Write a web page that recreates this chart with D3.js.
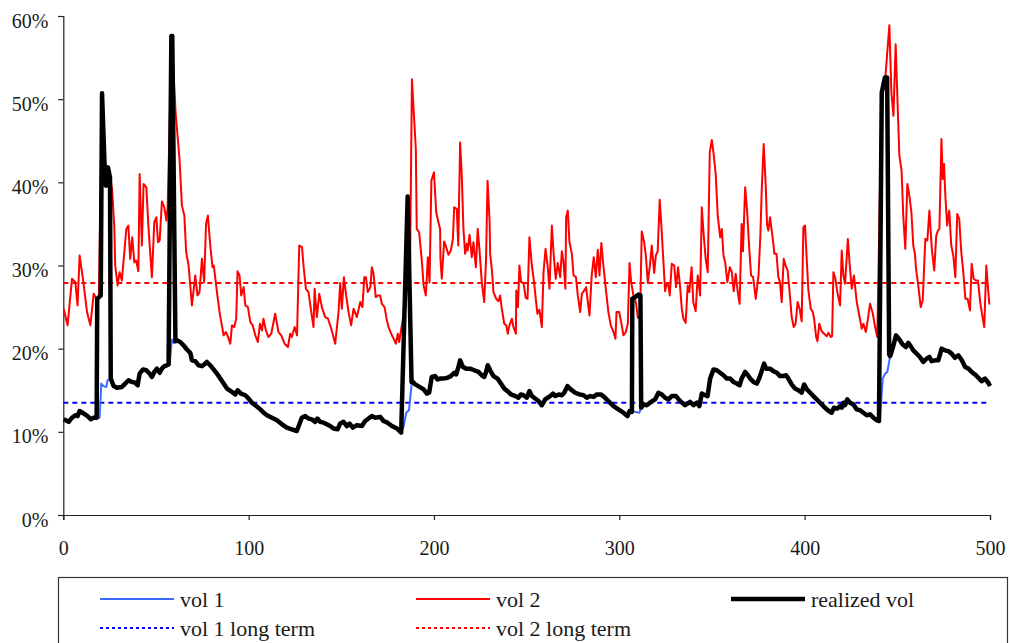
<!DOCTYPE html>
<html>
<head>
<meta charset="utf-8">
<script src="https://cdn.jsdelivr.net/npm/d3@7"></script>
<style>
  html, body { margin: 0; padding: 0; background: #fff; }
  svg { display: block; }
</style>
</head>
<body>
<div id="chart"></div>
<script>
// ---------------- DATA ----------------
const xTicks = [0, 100, 200, 300, 400, 500];
const yTicks = [0, 10, 20, 30, 40, 50, 60];
const seriesNames = ["vol 1", "vol 2", "realized vol", "vol 1 long term", "vol 2 long term"];
const vol1LongTerm = 13.5;
const vol2LongTerm = 27.9;

// vol 1: [time, vol %]
const vol1 = [[0.2,11.5],[2.9,11.2],[4.7,11.7],[6.5,12.0],[7.7,11.9],[8.8,12.5],[11.0,12.2],[13.1,11.9],[14.9,11.5],[16.3,11.7],[17.8,11.7],[19.6,11.7],[20.5,15.8],[21.7,15.5],[23.2,15.4],[23.9,16.2],[25.4,16.4],[27.2,15.5],[28.9,15.3],[31.6,15.4],[33.4,15.8],[35.2,16.2],[37.0,16.0],[38.8,15.9],[40.1,15.6],[41.2,17.0],[43.0,17.5],[44.8,17.4],[46.6,17.0],[47.8,16.6],[49.1,17.2],[50.5,17.6],[52.0,17.1],[53.2,17.6],[54.5,17.9],[55.9,18.0],[57.4,18.1],[58.6,21.1],[59.5,20.7],[60.4,20.8],[61.3,21.0],[63.1,20.8],[64.9,20.4],[66.7,19.9],[68.5,19.5],[69.4,18.6],[71.2,18.5],[73.0,18.0],[74.8,17.9],[76.0,18.1],[77.5,18.4],[79.3,18.0],[81.1,17.5],[82.9,17.0],[84.7,16.4],[86.5,15.8],[88.3,15.2],[91.0,14.8],[92.8,14.5],[94.1,15.0],[95.9,14.6],[98.2,14.4],[100.0,14.0],[101.8,13.5],[104.1,13.1],[106.3,12.7],[108.1,12.3],[109.9,12.0],[112.6,11.7],[115.3,11.4],[118.0,10.9],[120.6,10.5],[123.3,10.3],[126.0,10.1],[128.7,11.7],[130.5,11.9],[132.3,11.6],[134.1,11.5],[135.9,11.2],[137.1,11.6],[138.6,11.2],[140.4,11.1],[142.2,10.9],[144.0,10.7],[145.8,10.4],[148.0,10.3],[149.4,11.0],[151.2,11.2],[153.0,10.7],[154.4,11.0],[156.2,10.5],[158.4,10.8],[161.1,10.7],[162.9,11.3],[164.7,11.6],[166.5,11.9],[168.3,11.7],[171.0,11.8],[172.8,11.3],[174.9,11.1],[177.3,10.7],[180.0,10.4],[182.3,9.9],[183.5,10.5],[185.0,12.3],[186.5,12.6],[187.2,14.1],[188.1,16.1],[189.9,15.7],[192.2,15.4],[194.4,15.1],[196.2,14.6],[197.4,14.7],[198.8,16.6],[200.6,16.7],[201.9,16.3],[203.3,16.4],[205.1,16.4],[207.3,16.5],[209.1,16.7],[210.9,17.1],[212.0,16.9],[213.2,17.8],[214.1,18.6],[215.6,17.8],[217.4,17.6],[219.5,17.6],[221.7,17.4],[224.0,17.2],[225.8,16.8],[227.1,16.6],[228.1,17.2],[229.0,18.0],[230.3,17.4],[232.1,16.7],[234.3,16.4],[236.1,15.8],[237.9,15.2],[239.7,14.9],[241.5,14.5],[243.9,14.3],[245.6,14.1],[246.9,14.5],[248.3,14.4],[250.1,14.1],[251.5,14.9],[252.8,14.3],[254.6,14.0],[256.4,13.7],[258.2,13.2],[260.0,13.9],[261.3,14.1],[262.7,14.3],[264.2,14.6],[265.5,14.3],[267.3,14.5],[269.0,14.4],[270.3,14.7],[272.0,15.5],[273.8,15.1],[276.2,14.7],[278.5,14.5],[280.7,14.4],[282.5,14.1],[284.3,14.3],[286.1,14.2],[287.9,14.5],[290.0,14.5],[291.8,14.2],[294.1,13.7],[296.9,13.1],[299.5,12.7],[302.2,12.3],[304.4,11.9],[305.5,12.5],[306.8,12.4],[308.5,12.4],[310.8,12.3],[311.7,12.9],[313.0,13.3],[314.8,13.2],[316.5,13.5],[319.3,13.9],[321.1,14.7],[322.9,14.5],[324.7,14.1],[326.5,13.9],[328.3,14.3],[330.6,14.3],[332.8,13.7],[335.5,13.2],[338.2,13.6],[340.0,13.2],[341.8,13.5],[343.2,13.1],[344.5,14.6],[346.3,14.4],[347.6,14.3],[349.0,16.4],[350.8,17.5],[352.6,17.4],[354.4,17.1],[356.2,16.8],[358.0,16.4],[359.8,16.4],[361.6,16.0],[363.4,15.8],[364.9,15.6],[366.0,16.4],[367.9,17.2],[369.1,16.9],[370.6,16.4],[372.4,16.0],[374.2,15.8],[375.6,16.5],[376.8,17.3],[378.1,18.2],[379.2,17.6],[381.3,17.6],[383.1,17.3],[385.0,17.1],[386.7,16.7],[388.5,16.7],[390.0,16.8],[391.2,16.4],[393.0,15.7],[394.8,15.2],[396.6,15.0],[398.4,14.7],[399.7,15.7],[401.2,15.1],[403.0,14.7],[404.7,14.3],[406.5,13.9],[408.3,13.5],[410.1,13.1],[411.9,12.7],[413.7,12.4],[414.6,12.3],[415.8,12.9],[417.6,12.8],[419.1,13.1],[420.0,12.9],[420.9,13.5],[421.8,13.2],[423.0,13.9],[424.5,13.5],[426.3,13.3],[428.1,12.7],[429.9,12.6],[431.7,12.3],[433.5,12.0],[435.3,12.1],[437.1,11.7],[438.9,11.4],[440.1,11.3],[440.6,11.3],[442.1,16.4],[443.4,17.0],[444.6,17.2],[446.1,19.1],[446.5,19.3],[447.9,20.4],[449.3,21.6],[451.1,21.1],[452.9,20.5],[454.6,20.2],[455.9,20.7],[457.2,20.3],[458.6,19.8],[460.4,19.4],[462.2,19.0],[464.0,18.4],[465.8,18.8],[467.3,19.0],[468.5,18.5],[470.3,18.6],[472.1,18.6],[473.9,20.0],[475.7,19.8],[477.5,19.7],[479.3,19.4],[481.1,18.9],[482.9,19.2],[484.8,18.6],[486.6,17.8],[488.4,17.6],[490.1,17.2],[491.9,16.9],[493.7,16.5],[495.5,16.1],[497.3,16.4],[499.1,15.9],[500.0,15.5]];

// vol 2: [time, vol %]
const vol2 = [[0.2,24.8],[2.3,22.8],[4.7,28.4],[6.5,28.0],[7.7,25.2],[8.8,31.2],[10.6,28.4],[12.8,24.4],[14.6,22.8],[16.4,26.6],[17.8,26.0],[19.2,26.2],[20.9,50.7],[22.3,41.8],[23.0,39.6],[24.1,41.8],[25.2,40.6],[26.3,39.2],[27.5,34.8],[28.0,30.0],[29.3,27.6],[30.4,29.2],[31.6,28.2],[34.0,34.4],[35.1,34.8],[36.1,30.8],[37.2,33.4],[38.3,30.4],[39.3,30.6],[40.5,29.3],[41.2,41.0],[42.4,32.4],[43.3,39.8],[44.8,39.4],[46.0,34.4],[47.8,28.6],[49.1,35.2],[50.2,35.8],[51.1,32.8],[52.0,33.0],[53.2,37.7],[54.5,37.0],[55.6,35.4],[56.3,37.0],[58.5,57.5],[60.6,48.4],[62.7,42.8],[64.0,37.2],[65.3,36.0],[66.3,31.6],[67.6,30.0],[69.4,25.2],[71.2,28.8],[72.4,26.4],[73.5,26.8],[74.8,30.8],[76.0,28.0],[77.0,35.0],[78.0,36.0],[79.3,32.4],[80.5,29.8],[81.2,30.0],[82.9,26.8],[84.3,24.4],[86.5,21.6],[87.7,22.0],[88.6,21.6],[90.1,20.6],[91.0,22.8],[92.2,22.6],[93.3,23.6],[94.0,29.3],[95.1,28.8],[96.0,26.4],[97.3,27.4],[98.2,25.2],[99.6,25.0],[100.9,23.2],[102.2,22.8],[103.6,21.6],[105.0,20.8],[106.1,23.0],[107.2,22.2],[108.0,23.6],[109.3,22.2],[110.7,21.4],[112.2,21.8],[114.3,24.2],[116.1,22.0],[117.6,21.6],[119.4,20.6],[121.2,20.2],[122.4,21.8],[123.3,21.4],[124.8,22.6],[126.1,21.6],[127.3,32.4],[128.8,32.2],[129.6,30.0],[130.9,27.2],[132.3,26.8],[133.8,24.4],[135.0,22.6],[135.6,27.2],[136.8,23.8],[138.1,26.6],[139.5,25.0],[141.3,23.8],[142.8,23.6],[144.6,22.4],[146.7,20.6],[148.5,24.4],[149.4,27.9],[150.3,24.8],[151.4,28.6],[152.6,26.4],[153.9,24.4],[155.3,22.8],[156.6,24.8],[158.4,23.8],[160.2,25.6],[161.4,25.0],[162.4,28.6],[163.3,28.6],[164.3,26.8],[165.7,27.4],[166.5,29.8],[167.4,29.0],[168.6,26.2],[169.7,26.4],[170.9,26.4],[171.9,25.4],[173.3,25.0],[174.6,23.4],[175.5,22.6],[176.9,21.8],[178.2,21.2],[179.4,20.6],[180.5,21.8],[181.2,20.8],[183.5,24.0],[185.5,28.5],[187.0,28.0],[188.1,52.4],[190.2,44.0],[190.7,34.4],[192.0,34.0],[193.5,30.4],[194.4,27.6],[195.6,26.4],[196.7,31.0],[197.6,28.0],[198.6,40.2],[200.0,41.2],[201.2,36.4],[202.4,35.2],[203.3,34.4],[203.5,30.8],[204.2,28.4],[205.5,32.9],[206.6,32.2],[207.8,31.3],[209.1,31.8],[210.2,33.2],[210.9,37.0],[212.3,36.8],[213.1,32.4],[214.1,44.8],[215.0,40.8],[215.9,34.4],[216.8,31.4],[217.7,32.6],[218.2,31.8],[219.2,33.7],[220.4,31.0],[221.3,32.8],[222.6,29.8],[223.6,34.4],[224.5,32.0],[225.8,28.0],[227.1,25.6],[228.1,30.8],[228.9,40.2],[230.0,35.4],[230.3,31.4],[231.2,29.6],[232.1,26.8],[233.6,26.0],[234.8,25.7],[235.7,26.4],[236.6,24.8],[237.9,23.0],[239.0,22.8],[239.8,21.8],[240.7,22.8],[242.0,23.6],[242.9,22.6],[244.2,21.8],[244.4,27.0],[245.3,25.0],[246.1,30.0],[247.0,28.0],[248.3,27.9],[249.5,26.1],[250.5,26.0],[251.5,33.4],[252.8,30.0],[254.0,28.0],[255.1,25.6],[255.8,24.2],[256.9,24.7],[258.2,22.6],[259.1,29.2],[260.2,32.0],[261.3,30.0],[262.3,27.2],[263.6,34.8],[264.5,31.6],[265.7,28.4],[266.8,30.3],[268.1,28.6],[269.0,31.7],[269.9,30.4],[270.9,27.2],[271.3,35.8],[272.2,36.6],[273.1,32.8],[274.4,31.4],[275.3,28.8],[276.6,28.6],[277.6,26.4],[278.9,24.4],[279.8,26.6],[281.1,27.0],[282.1,27.4],[282.8,26.0],[283.9,24.0],[285.1,28.8],[286.2,31.0],[287.3,28.6],[288.4,31.9],[289.3,28.8],[290.3,32.7],[291.4,30.0],[292.9,26.8],[294.1,24.4],[295.4,22.8],[296.9,22.0],[297.9,21.2],[298.5,24.4],[299.9,24.4],[301.0,23.2],[302.2,21.6],[303.5,22.0],[304.6,23.0],[305.5,30.3],[306.4,28.0],[307.6,26.4],[309.0,25.5],[310.0,23.7],[311.2,24.0],[312.1,34.1],[313.4,32.8],[314.3,31.2],[315.4,27.9],[316.5,30.0],[317.5,32.4],[318.8,29.1],[319.7,31.2],[320.7,31.7],[321.8,37.9],[322.8,34.4],[323.8,30.4],[324.7,26.9],[325.6,27.9],[326.5,27.6],[327.2,26.4],[328.3,30.2],[329.6,30.0],[330.6,27.4],[331.7,29.8],[332.8,27.4],[333.7,24.8],[334.6,23.6],[335.8,23.1],[336.9,27.6],[337.8,26.8],[339.0,29.8],[339.9,25.6],[341.2,24.5],[342.3,28.8],[343.6,26.4],[344.5,37.0],[345.4,34.0],[346.6,30.8],[347.7,29.2],[348.8,43.6],[349.9,45.1],[350.8,43.6],[352.0,41.0],[353.1,36.0],[354.4,33.4],[355.3,34.4],[356.2,31.2],[357.1,30.4],[358.3,28.0],[359.6,29.8],[360.7,29.2],[361.7,26.9],[362.8,29.0],[363.9,26.8],[364.9,25.4],[366.0,35.0],[366.7,31.7],[367.9,39.4],[369.0,36.4],[370.0,32.4],[371.1,28.8],[372.2,28.6],[373.6,26.0],[375.1,28.8],[376.1,33.6],[376.8,38.8],[377.9,44.6],[379.0,39.6],[379.7,34.9],[380.4,34.2],[381.3,35.8],[382.6,33.6],[383.7,31.4],[384.8,31.4],[385.8,28.6],[386.7,28.0],[387.6,25.6],[388.7,30.8],[389.7,30.0],[390.8,29.4],[391.9,26.8],[393.0,23.8],[394.1,22.6],[395.1,23.0],[396.2,25.6],[397.3,24.8],[398.4,23.3],[399.3,34.6],[400.2,34.8],[401.2,30.4],[402.0,27.0],[403.3,24.8],[404.4,24.4],[405.1,23.6],[406.2,21.4],[406.9,20.9],[407.9,23.0],[409.2,22.1],[410.5,21.8],[411.9,21.5],[412.8,21.9],[414.1,21.4],[414.8,21.5],[415.5,29.2],[416.6,28.4],[417.6,26.8],[419.1,25.2],[420.0,31.8],[420.9,28.8],[421.8,27.8],[423.3,33.2],[424.2,30.4],[425.4,27.2],[426.6,28.8],[428.1,25.6],[429.3,24.2],[430.8,22.4],[431.7,23.0],[433.0,22.0],[434.0,23.4],[435.3,25.4],[436.8,24.2],[438.0,22.6],[439.2,21.4],[441.5,50.0],[443.5,52.5],[445.7,58.9],[446.8,50.8],[447.9,48.0],[449.1,56.6],[450.3,48.4],[451.1,43.2],[452.3,41.4],[453.2,36.0],[454.3,32.0],[455.4,39.8],[456.5,38.4],[457.6,36.4],[458.6,32.4],[459.5,31.4],[460.1,29.6],[461.3,27.6],[462.6,25.0],[463.7,25.8],[465.1,33.2],[466.2,33.0],[467.3,36.6],[468.6,32.0],[469.9,29.4],[471.0,33.6],[471.9,34.2],[472.7,34.4],[473.8,45.2],[474.5,40.4],[475.2,42.2],[475.9,38.4],[476.9,34.8],[478.0,36.6],[479.1,32.4],[480.2,31.2],[481.3,28.6],[482.3,36.2],[483.4,35.6],[484.5,31.6],[485.6,29.2],[486.7,26.0],[487.9,26.0],[489.2,24.6],[490.1,30.2],[491.2,28.4],[492.4,28.2],[493.5,28.2],[494.7,25.6],[495.8,24.0],[496.9,22.6],[498.0,30.0],[499.1,26.8],[499.6,25.4],[500.0,25.5]];

// realized vol spikes (regime switches); elsewhere realized vol follows vol 1
const spike1 = [[18.0,11.7],[18.3,26.0],[20.2,26.4],[20.9,50.7],[22.3,41.8],[23.0,39.6],[24.1,41.8],[25.2,40.6],[25.6,16.4]];
const spike2 = [[56.8,18.1],[58.3,57.6],[58.8,57.6],[60.5,20.9]];
const spike3 = [[182.3,9.9],[185.8,38.3],[187.9,16.0]];
const spike4 = [[306.8,12.4],[307.0,26.0],[308.5,26.2],[310.3,26.5],[311.4,26.4],[311.8,12.9]];
const spike5 = [[440.1,11.3],[441.6,50.8],[443.3,52.6],[444.5,52.6],[445.6,19.3]];

// --------------- BUILD ----------------
const spikes = [spike1, spike2, spike3, spike4, spike5];
const realized = vol1
  .filter(p => !spikes.some(s => p[0] >= s[0][0] && p[0] <= s[s.length - 1][0]))
  .concat(...spikes)
  .sort((a, b) => a[0] - b[0]);

const FONT = "'Liberation Serif', 'Times New Roman', Times, 'DejaVu Serif', serif";
const W = 1010, H = 643;
const plotLeft = 63.3, plotRight = 990, plotTop = 16, plotBottom = 515;

const svg = d3.select("#chart").append("svg").attr("width", W).attr("height", H);

const x = d3.scaleLinear().domain([0, 500]).range([plotLeft, plotRight]);
const y = d3.scaleLinear().domain([0, 60]).range([plotBottom, plotTop]);

const line = d3.line().x(d => x(d[0])).y(d => y(d[1]));

// axes
const yAxis = svg.append("g").attr("transform", `translate(${plotLeft},0)`)
  .call(d3.axisLeft(y).tickValues(yTicks).tickSize(5).tickPadding(10).tickFormat(d => d + "%"));
const xAxis = svg.append("g").attr("transform", `translate(0,${plotBottom})`)
  .call(d3.axisBottom(x).tickValues(xTicks).tickSize(5).tickPadding(21).tickFormat(d3.format("d")));

[xAxis, yAxis].forEach(g => {
  g.attr("font-family", null).attr("font-size", null);
  g.select(".domain").attr("stroke", "#222").attr("stroke-width", 1.2);
  g.selectAll(".tick line").attr("stroke", "#222").attr("stroke-width", 1.2);
  g.selectAll("text").style("font-family", FONT).style("font-size", "20px").attr("fill", "#1a1a1a");
});
yAxis.selectAll("text").attr("dy", "0.55em");

// long-term levels
const lt = svg.append("g");
lt.append("line").attr("x1", x(0)).attr("x2", x(500))
  .attr("y1", y(vol1LongTerm)).attr("y2", y(vol1LongTerm))
  .attr("stroke", "#0000ff").attr("stroke-width", 2).attr("stroke-dasharray", "5,4");
lt.append("line").attr("x1", x(0)).attr("x2", x(500))
  .attr("y1", y(vol2LongTerm)).attr("y2", y(vol2LongTerm))
  .attr("stroke", "#ff0000").attr("stroke-width", 2).attr("stroke-dasharray", "5,4");

// series
svg.append("path").datum(vol1).attr("d", line)
  .attr("fill", "none").attr("stroke", "#3d6bff").attr("stroke-width", 2).attr("stroke-linejoin", "round");
svg.append("path").datum(vol2).attr("d", line)
  .attr("fill", "none").attr("stroke", "#ff0000").attr("stroke-width", 2).attr("stroke-linejoin", "round");
svg.append("path").datum(realized).attr("d", line)
  .attr("fill", "none").attr("stroke", "#000").attr("stroke-width", 4.5).attr("stroke-linejoin", "round");

// legend
const lg = svg.append("g");
lg.append("rect").attr("x", 58.5).attr("y", 577.5).attr("width", 949).attr("height", 80)
  .attr("fill", "#fff").attr("stroke", "#333").attr("stroke-width", 1.2);

const legendItems = [
  { name: seriesNames[0], x: 100, y: 599, color: "#3d6bff", w: 2, dash: null },
  { name: seriesNames[1], x: 416, y: 599, color: "#ff0000", w: 2, dash: null },
  { name: seriesNames[2], x: 731, y: 599, color: "#000", w: 4.5, dash: null },
  { name: seriesNames[3], x: 100, y: 628, color: "#0000ff", w: 2, dash: "3,3" },
  { name: seriesNames[4], x: 416, y: 628, color: "#ff0000", w: 2, dash: "3,3" }
];
legendItems.forEach(it => {
  lg.append("line").attr("x1", it.x).attr("x2", it.x + 74).attr("y1", it.y).attr("y2", it.y)
    .attr("stroke", it.color).attr("stroke-width", it.w)
    .attr("stroke-dasharray", it.dash);
  lg.append("text").attr("x", it.x + 80).attr("y", it.y + 8)
    .style("font-family", FONT).style("font-size", "22px").attr("fill", "#1a1a1a")
    .text(it.name);
});
</script>
</body>
</html>
